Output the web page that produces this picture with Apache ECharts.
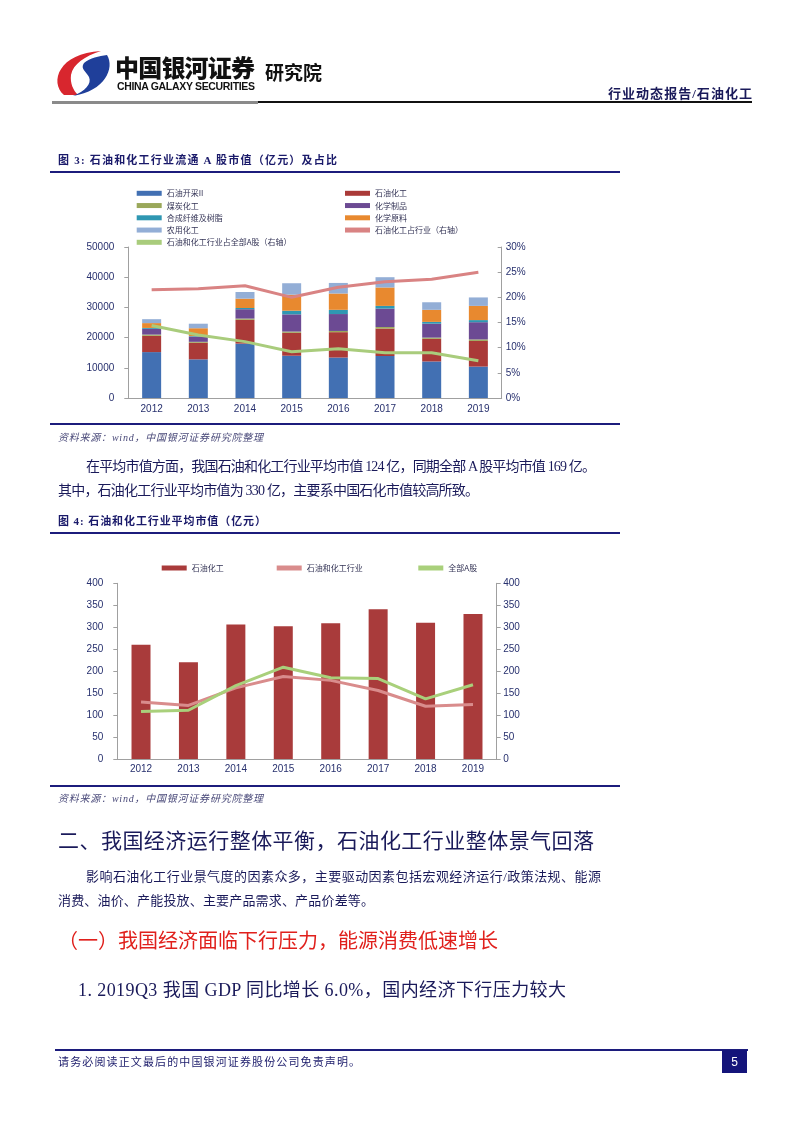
<!DOCTYPE html>
<html><head><meta charset="utf-8">
<script src="https://cdn.jsdelivr.net/npm/echarts/dist/echarts.min.js"></script>
<style>
html,body{margin:0;padding:0;background:#fff;}
#page{position:relative;width:802px;height:1133px;overflow:hidden;background:#fff;}
#c1{position:absolute;left:0;top:175px;width:802px;height:245px;}
#c2{position:absolute;left:0;top:545px;width:802px;height:240px;}
#ov{position:absolute;left:0;top:0;width:802px;height:1133px;pointer-events:none;z-index:3;}
.serif{font-family:'Liberation Serif','Noto Sans CJK SC',serif;}
.sans{font-family:'Liberation Sans','Noto Sans CJK SC',sans-serif;}
</style></head>
<body><div id="page">
<div id="c1"></div>
<div id="c2"></div>
<svg id="ov" xmlns="http://www.w3.org/2000/svg" width="802" height="1133">
  <!-- logo -->
  <g transform="translate(55,50)">
    <path d="M9 45 C-6 32 4 3 46 1 C30 6 18 14 16 25 C15 33 18 40 23 45 Z" fill="#d8262e"/>
    <path d="M52 5 C60 18 50 41 18 46 C30 41 37 34 34 27 C31 21 25 19 29 13 C35 8 44 6 52 5 Z" fill="#1f3f9a"/>
  </g>
  <text x="115" y="77" font-size="24" font-weight="900" textLength="140" class="sans" fill="#111">中国银河证券</text>
  <text x="117" y="90" font-size="10.5" font-weight="700" textLength="138" class="sans" fill="#111">CHINA GALAXY SECURITIES</text>
  <text x="265" y="80" font-size="19" font-weight="700" textLength="57" class="sans" fill="#111">研究院</text>
  <text x="752" y="97.5" font-size="13" font-weight="700" text-anchor="end" textLength="144" class="serif" fill="#1a1a5a">行业动态报告/石油化工</text>
  <rect x="52" y="101" width="206" height="3" fill="#8a8a8a"/>
  <rect x="258" y="101" width="494" height="2" fill="#111"/>

  <!-- figure 3 -->
  <text x="58" y="164" font-size="11" font-weight="700" textLength="279" class="serif" fill="#1a1a6a">图 3: 石油和化工行业流通 A 股市值（亿元）及占比</text>
  <rect x="50" y="171" width="570" height="2" fill="#1c1c7c"/>
  <rect x="50" y="423" width="570" height="2" fill="#1c1c7c"/>
  <text x="58" y="440.5" font-size="10" font-style="italic" textLength="205" class="serif" fill="#4a4a7a">资料来源：wind，中国银河证券研究院整理</text>

  <text x="86" y="471" font-size="14" textLength="510" class="serif" fill="#1a1a5a">在平均市值方面，我国石油和化工行业平均市值 124 亿，同期全部 A 股平均市值 169 亿。</text>
  <text x="58" y="495" font-size="14" textLength="421" class="serif" fill="#1a1a5a">其中，石油化工行业平均市值为 330 亿，主要系中国石化市值较高所致。</text>

  <!-- figure 4 -->
  <text x="58" y="525" font-size="11" font-weight="700" textLength="208" class="serif" fill="#1a1a6a">图 4: 石油和化工行业平均市值（亿元）</text>
  <rect x="50" y="532" width="570" height="2" fill="#1c1c7c"/>
  <rect x="50" y="785" width="570" height="2" fill="#1c1c7c"/>
  <text x="58" y="801.5" font-size="10" font-style="italic" textLength="205" class="serif" fill="#4a4a7a">资料来源：wind，中国银河证券研究院整理</text>

  <text x="58" y="848" font-size="21" textLength="536" class="serif" fill="#1a1a5a">二、我国经济运行整体平衡，石油化工行业整体景气回落</text>
  <text x="86" y="880.5" font-size="13" textLength="515" class="serif" fill="#1a1a5a">影响石油化工行业景气度的因素众多，主要驱动因素包括宏观经济运行/政策法规、能源</text>
  <text x="58" y="904.5" font-size="13" textLength="316" class="serif" fill="#1a1a5a">消费、油价、产能投放、主要产品需求、产品价差等。</text>
  <text x="58" y="948" font-size="20" textLength="440" class="serif" fill="#e0201c">（一）我国经济面临下行压力，能源消费低速增长</text>
  <text x="78" y="996" font-size="18" textLength="488" class="serif" fill="#1a1a5a">1. 2019Q3 我国 GDP 同比增长 6.0%，国内经济下行压力较大</text>

  <!-- footer -->
  <rect x="55" y="1049" width="693" height="2" fill="#1c1c7c"/>
  <text x="58" y="1066" font-size="11" textLength="302" class="serif" fill="#1a1a6a">请务必阅读正文最后的中国银河证券股份公司免责声明。</text>
  <rect x="722" y="1050" width="25" height="23" fill="#14147a"/>
  <text x="734.5" y="1066" font-size="12" text-anchor="middle" class="sans" fill="#fff">5</text>
</svg>
</div>
<script>
// ---------- data: figure 3 ----------
const years = ['2012','2013','2014','2015','2016','2017','2018','2019'];
const oilExtraction = [15200, 12800, 18000, 14000, 13400, 13900, 12100, 10400]; // 石油开采II
const petrochemical = [5400, 5500, 7900, 7600, 8400, 9100, 7500, 8500];         // 石油化工
const coalChemical = [400, 300, 400, 400, 400, 500, 400, 500];                  // 煤炭化工
const chemProducts = [1900, 1700, 3100, 5700, 5600, 6100, 4600, 5700];          // 化学制品
const fiberResin = [300, 200, 400, 1200, 1400, 900, 600, 700];                  // 合成纤维及树脂
const chemRaw = [1600, 2600, 3100, 5300, 5400, 6100, 4000, 4700];               // 化学原料
const agriChem = [1300, 1500, 2200, 3800, 3500, 3400, 2500, 2800];              // 农用化工
const petroShareOfIndustry = [21.5, 21.7, 22.3, 20.0, 22.0, 23.1, 23.6, 25.0];  // 石油化工占行业（右轴）%
const industryShareOfA = [14.4, 12.5, 11.2, 9.2, 9.8, 9.0, 9.0, 7.4];           // 石油和化工行业占全部A股（右轴）%
const leftTicks1 = {min:0, max:50000, interval:10000};
const rightTicks1 = {min:0, max:30, interval:5};

// ---------- data: figure 4 ----------
const avgPetro = [260, 220, 306, 302, 309, 341, 310, 330];     // 石油化工
const avgIndustry = [130, 122, 162, 188, 179, 156, 120, 124];  // 石油和化工行业
const avgAllA = [108, 111, 167, 209, 185, 183, 137, 169];      // 全部A股
const ticks2 = {min:0, max:400, interval:50};

const labelColor = '#27306e';
const axisGrey = '#a0a0a0';
const fontSans = "'Liberation Sans', 'Noto Sans CJK SC', sans-serif";
const legendText = {fontSize:8, lineHeight:12, color:'#333355', fontFamily:"'Noto Sans CJK SC', sans-serif"};

function barSeries(name, data, color){
  return {name, type:'bar', stack:'total', data, barWidth:19, itemStyle:{color}, emphasis:{disabled:true}};
}
function lineSeries(name, data, color, yIdx){
  return {name, type:'line', data, yAxisIndex:yIdx, symbol:'none', lineStyle:{color, width:3}, itemStyle:{color}, z:5};
}

const c1 = echarts.init(document.getElementById('c1'), null, {renderer:'canvas'});
c1.setOption({
  animation:false,
  textStyle:{fontFamily:fontSans},
  legend:[
    {left:131.7, top:7.3, orient:'vertical', icon:'rect', itemWidth:25, itemHeight:5, itemGap:0.25, textStyle:legendText,
     data:['石油开采II','煤炭化工','合成纤维及树脂','农用化工','石油和化工行业占全部A股（右轴）']},
    {left:340, top:7.3, orient:'vertical', icon:'rect', itemWidth:25, itemHeight:5, itemGap:0.25, textStyle:legendText,
     data:['石油化工','化学制品','化学原料','石油化工占行业（右轴）']}
  ],
  grid:{left:128.3, right:300.3, top:72, height:151},
  xAxis:{type:'category', data:years, axisLine:{lineStyle:{color:axisGrey}}, axisTick:{length:4, lineStyle:{color:axisGrey}},
         axisLabel:{color:labelColor, fontSize:10, margin:6.5}},
  yAxis:[
    {type:'value', min:leftTicks1.min, max:leftTicks1.max, interval:leftTicks1.interval, splitLine:{show:false},
     axisLine:{show:true, lineStyle:{color:axisGrey}}, axisTick:{show:true, length:4, lineStyle:{color:axisGrey}},
     axisLabel:{color:labelColor, fontSize:10, margin:14, formatter:(v)=>String(v)}},
    {type:'value', position:'right', min:rightTicks1.min, max:rightTicks1.max, interval:rightTicks1.interval, splitLine:{show:false},
     axisLine:{show:true, lineStyle:{color:axisGrey}}, axisTick:{show:true, inside:true, length:4, lineStyle:{color:axisGrey}},
     axisLabel:{color:labelColor, fontSize:10, margin:4, formatter:'{value}%'}}
  ],
  series:[
    barSeries('石油开采II', oilExtraction, '#4270b3'),
    barSeries('石油化工', petrochemical, '#aa3a38'),
    barSeries('煤炭化工', coalChemical, '#9aa85a'),
    barSeries('化学制品', chemProducts, '#6c4a93'),
    barSeries('合成纤维及树脂', fiberResin, '#2f97b2'),
    barSeries('化学原料', chemRaw, '#e8892f'),
    barSeries('农用化工', agriChem, '#93aed6'),
    lineSeries('石油化工占行业（右轴）', petroShareOfIndustry, '#d98383', 1),
    lineSeries('石油和化工行业占全部A股（右轴）', industryShareOfA, '#a9cc7c', 1)
  ]
});

const c2 = echarts.init(document.getElementById('c2'), null, {renderer:'canvas'});
c2.setOption({
  animation:false,
  textStyle:{fontFamily:fontSans},
  legend:[
    {left:156.7, top:12, icon:'rect', itemWidth:25, itemHeight:5, textStyle:legendText, data:['石油化工']},
    {left:271.7, top:12, icon:'rect', itemWidth:25, itemHeight:5, textStyle:legendText, data:['石油和化工行业']},
    {left:413.3, top:12, icon:'rect', itemWidth:25, itemHeight:5, textStyle:legendText, data:['全部A股']}
  ],
  grid:{left:117.3, right:305.3, top:38.3, height:175.7},
  xAxis:{type:'category', data:years, axisLine:{lineStyle:{color:axisGrey}}, axisTick:{length:4, lineStyle:{color:axisGrey}},
         axisLabel:{color:labelColor, fontSize:10, margin:5.5}},
  yAxis:[
    {type:'value', min:ticks2.min, max:ticks2.max, interval:ticks2.interval, splitLine:{show:false},
     axisLine:{show:true, lineStyle:{color:axisGrey}}, axisTick:{show:true, length:4, lineStyle:{color:axisGrey}},
     axisLabel:{color:labelColor, fontSize:10, margin:14}},
    {type:'value', position:'right', min:ticks2.min, max:ticks2.max, interval:ticks2.interval, splitLine:{show:false},
     axisLine:{show:true, lineStyle:{color:axisGrey}}, axisTick:{show:true, length:4, lineStyle:{color:axisGrey}},
     axisLabel:{color:labelColor, fontSize:10, margin:6.5}}
  ],
  series:[
    {name:'石油化工', type:'bar', data:avgPetro, barWidth:19, itemStyle:{color:'#a93b3b'}},
    lineSeries('石油和化工行业', avgIndustry, '#d98c8c', 0),
    lineSeries('全部A股', avgAllA, '#a9d07b', 0)
  ]
});
</script>
</body></html>
